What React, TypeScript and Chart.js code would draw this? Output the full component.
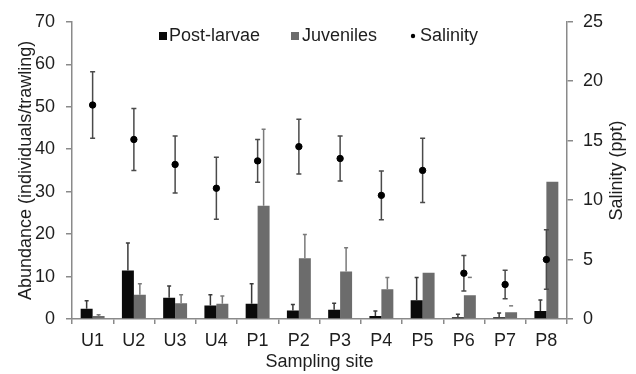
import { useEffect, useRef } from "react";
import { Chart, registerables } from "chart.js";

Chart.register(...registerables);

const sites = ["U1", "U2", "U3", "U4", "P1", "P2", "P3", "P4", "P5", "P6", "P7", "P8"];

const postLarvae = [2.4, 11.4, 5.0, 3.2, 3.6, 2.0, 2.2, 0.7, 4.4, 0.4, 0.4, 1.9];
const postLarvaeErr = [1.9, 6.5, 2.8, 2.5, 4.7, 1.4, 1.5, 1.2, 5.4, 0.7, 1.0, 2.6];

const juveniles = [0.7, 5.7, 3.7, 3.6, 26.7, 14.3, 11.2, 7.0, 10.9, 5.6, 1.6, 32.3];
const juvenilesErr = [0.3, 2.6, 2.0, 1.8, 18.0, 5.6, 5.6, 2.8, 0, 4.2, 1.5, 0];
const juvenilesCapOnly = [false, false, false, false, false, false, false, false, false, true, true, false];

const salinity = [18.0, 15.1, 13.0, 11.0, 13.3, 14.5, 13.5, 10.4, 12.5, 3.85, 2.9, 5.0];
const salinityErr = [2.8, 2.6, 2.4, 2.6, 1.8, 2.3, 1.9, 2.05, 2.7, 1.5, 1.2, 2.5];

const abundanceMax = 70;
const abundanceStep = 10;
const salinityMax = 25;
const salinityStep = 5;

const FONT = "'Liberation Sans', Arial, sans-serif";
const TEXT = "#1e1e1e";
const AXIS = "#8a8a8a";
const PL_COLOR = "#0a0a0a";
const JUV_COLOR = "#6c6c6c";

const errorBarPlugin = {
  id: "errorBars",
  afterDatasetDraw(chart: any, args: any) {
    const ctx = chart.ctx;
    const yS = chart.scales.y;
    const idx = args.index;
    if (idx !== 0 && idx !== 1) return;
    const vals = idx === 0 ? postLarvae : juveniles;
    const errs = idx === 0 ? postLarvaeErr : juvenilesErr;
    const color = idx === 0 ? "#3a3a3a" : "#7a7a7a";
    const meta = chart.getDatasetMeta(idx);
    ctx.save();
    ctx.lineWidth = 1.5;
    ctx.strokeStyle = color;
    meta.data.forEach((el: any, i: number) => {
      if (!errs[i]) return;
      const x = el.x;
      const top = yS.getPixelForValue(vals[i]);
      const hi = yS.getPixelForValue(vals[i] + errs[i]);
      ctx.beginPath();
      if (!(idx === 1 && juvenilesCapOnly[i])) {
        ctx.moveTo(x, top);
        ctx.lineTo(x, hi);
      }
      ctx.moveTo(x - 2, hi);
      ctx.lineTo(x + 2, hi);
      ctx.stroke();
    });
    ctx.restore();
  },
  beforeDatasetDraw(chart: any, args: any) {
    if (args.index !== 2) return;
    const ctx = chart.ctx;
    const y1 = chart.scales.y1;
    const meta = chart.getDatasetMeta(2);
    ctx.save();
    ctx.lineWidth = 1.5;
    ctx.strokeStyle = "#4a4a4a";
    meta.data.forEach((el: any, i: number) => {
      const x = el.x;
      const hi = y1.getPixelForValue(salinity[i] + salinityErr[i]);
      const lo = y1.getPixelForValue(salinity[i] - salinityErr[i]);
      ctx.beginPath();
      ctx.moveTo(x, lo);
      ctx.lineTo(x, hi);
      ctx.moveTo(x - 2.5, hi);
      ctx.lineTo(x + 2.5, hi);
      ctx.moveTo(x - 2.5, lo);
      ctx.lineTo(x + 2.5, lo);
      ctx.stroke();
    });
    ctx.restore();
  },
  afterDraw(chart: any) {
    const ctx = chart.ctx;
    ctx.save();
    ctx.font = `18px ${FONT}`;
    ctx.fillStyle = TEXT;
    ctx.textBaseline = "middle";
    ctx.textAlign = "left";
    const ly = 36;
    // legend
    ctx.fillStyle = PL_COLOR;
    ctx.fillRect(159, ly - 4, 8, 8);
    ctx.fillStyle = TEXT;
    ctx.fillText("Post-larvae", 169, ly);
    ctx.fillStyle = JUV_COLOR;
    ctx.fillRect(291, ly - 4, 8, 8);
    ctx.fillStyle = TEXT;
    ctx.fillText("Juveniles", 302, ly);
    ctx.fillStyle = "#000";
    ctx.beginPath();
    ctx.arc(413, ly, 2.2, 0, Math.PI * 2);
    ctx.fill();
    ctx.fillStyle = TEXT;
    ctx.fillText("Salinity", 420, ly);
    // right axis title, reading upward
    const ca = chart.chartArea;
    ctx.translate(617, (ca.top + ca.bottom) / 2);
    ctx.rotate(-Math.PI / 2);
    ctx.textAlign = "center";
    ctx.fillText("Salinity (ppt)", 0, 0);
    ctx.restore();
  },
};

export default function App() {
  const ref = useRef<HTMLCanvasElement>(null);

  useEffect(() => {
    if (!ref.current) return;
    const chart = new Chart(ref.current, {
      type: "bar",
      data: {
        labels: sites,
        datasets: [
          {
            label: "Post-larvae",
            data: postLarvae,
            backgroundColor: PL_COLOR,
            yAxisID: "y",
            order: 1,
            barPercentage: 1,
            categoryPercentage: 0.58,
          },
          {
            label: "Juveniles",
            data: juveniles,
            backgroundColor: JUV_COLOR,
            yAxisID: "y",
            order: 1,
            barPercentage: 1,
            categoryPercentage: 0.58,
          },
          {
            type: "line",
            label: "Salinity",
            data: salinity,
            yAxisID: "y1",
            showLine: false,
            pointRadius: 3.2,
            pointBackgroundColor: "#000",
            pointBorderColor: "#000",
            borderColor: "#000",
            order: 0,
          } as any,
        ],
      },
      options: {
        responsive: false,
        animation: false,
        layout: { padding: { top: 17, left: 0, right: 0, bottom: 0 } },
        plugins: {
          legend: { display: false },
          tooltip: { enabled: false },
        },
        scales: {
          x: {
            grid: {
              display: true,
              drawOnChartArea: false,
              drawTicks: true,
              tickLength: 5,
              color: AXIS,
              lineWidth: 1.5,
            },
            border: { display: true, color: AXIS, width: 1.5 },
            ticks: { color: TEXT, font: { family: FONT, size: 18 }, padding: 6, maxRotation: 0 },
            title: {
              display: true,
              text: "Sampling site",
              color: TEXT,
              font: { family: FONT, size: 18 },
              padding: { top: 0, bottom: 1 },
            },
            afterFit: (s: any) => {
              s.height = 55;
            },
          },
          y: {
            position: "left",
            min: 0,
            max: abundanceMax,
            ticks: {
              stepSize: abundanceStep,
              color: TEXT,
              font: { family: FONT, size: 18 },
              padding: 11,
            },
            grid: {
              display: true,
              drawOnChartArea: false,
              drawTicks: true,
              tickLength: 6,
              color: AXIS,
              lineWidth: 1.5,
            },
            border: { display: true, color: AXIS, width: 1.5 },
            title: {
              display: true,
              text: "Abundance (individuals/trawling)",
              color: TEXT,
              font: { family: FONT, size: 18 },
              padding: { top: 15, bottom: 0 },
            },
            afterFit: (s: any) => {
              s.width = 72;
            },
          },
          y1: {
            position: "right",
            min: 0,
            max: salinityMax,
            ticks: {
              stepSize: salinityStep,
              color: TEXT,
              font: { family: FONT, size: 18 },
              padding: 10,
            },
            grid: {
              display: true,
              drawOnChartArea: false,
              drawTicks: true,
              tickLength: 6,
              color: AXIS,
              lineWidth: 1.5,
            },
            border: { display: true, color: AXIS, width: 1.5 },
            afterFit: (s: any) => {
              s.width = 69;
            },
          },
        },
      } as any,
      plugins: [errorBarPlugin as any],
    });
    return () => chart.destroy();
  }, []);

  return (
    <div style={{ position: "fixed", left: 0, top: 0, width: 636, height: 374, background: "#fff" }}>
      <canvas ref={ref} width={636} height={374} style={{ display: "block" }} />
    </div>
  );
}
